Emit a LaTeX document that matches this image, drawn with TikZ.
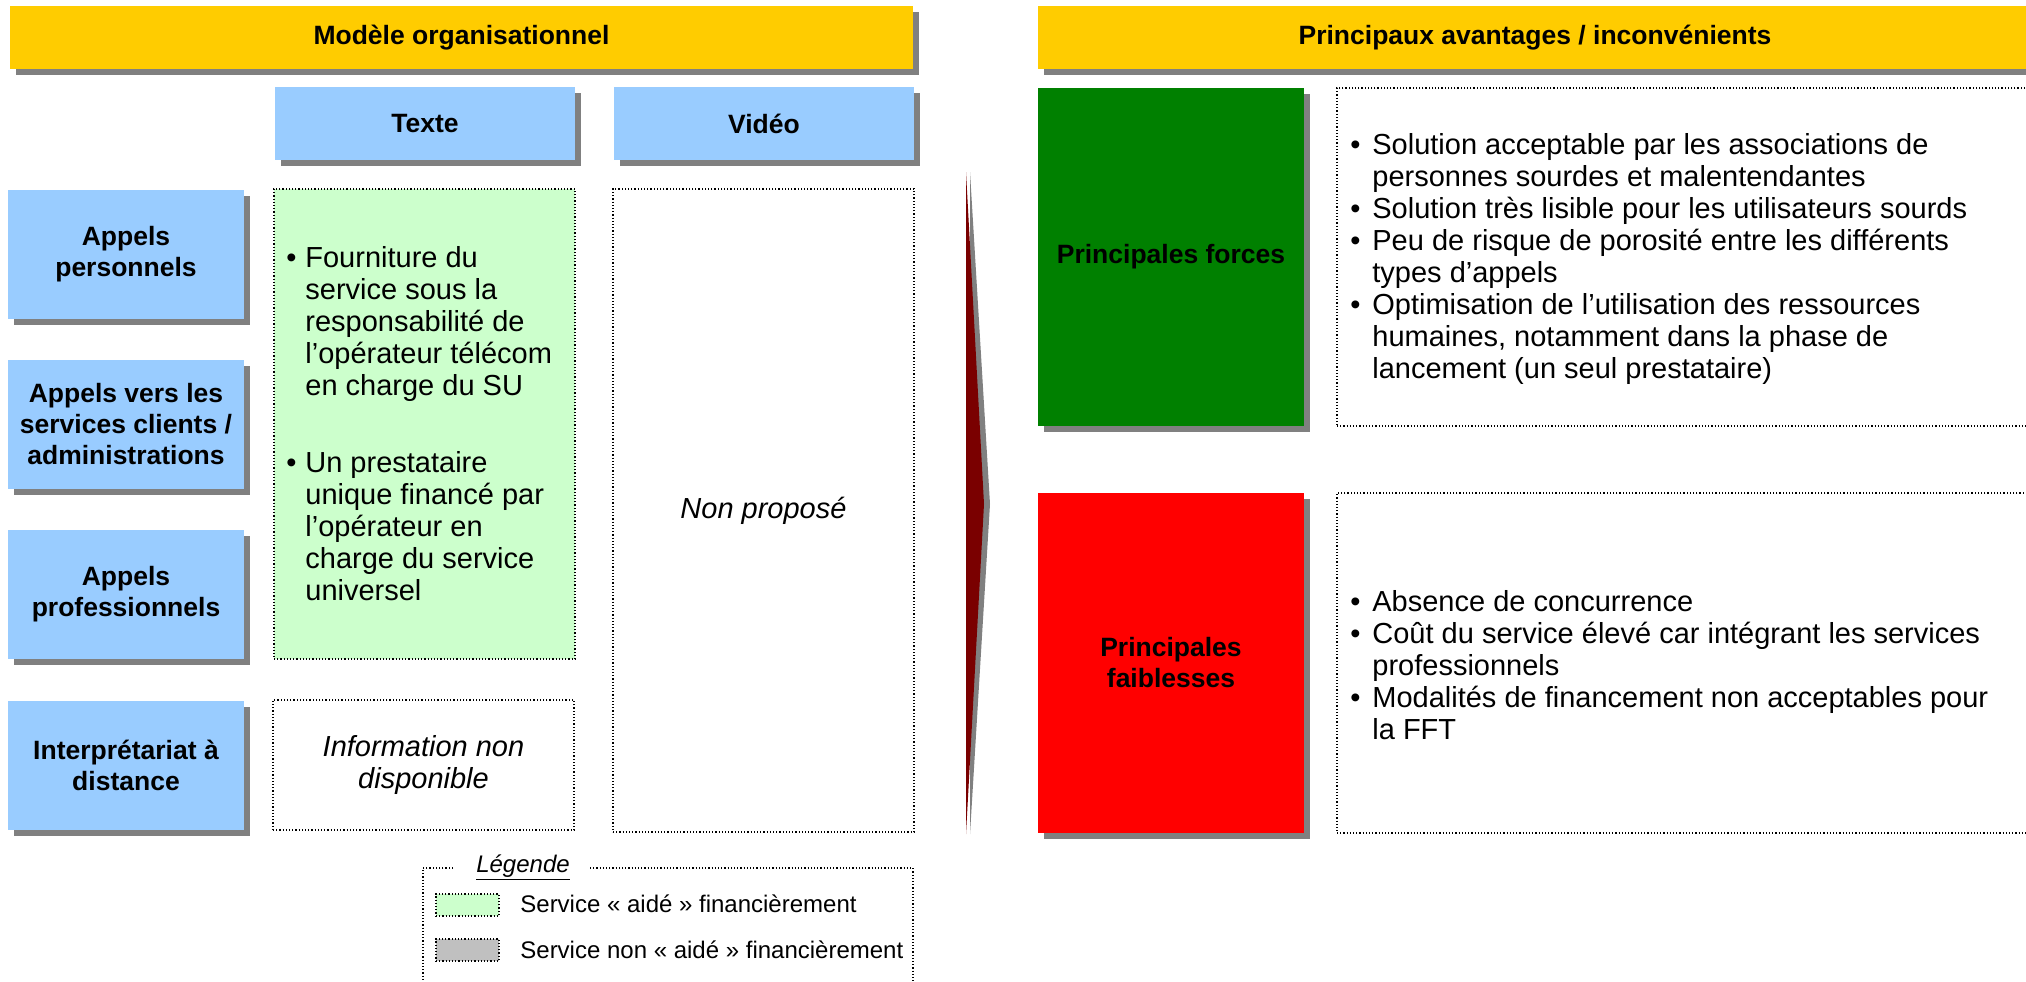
\documentclass[tikz,border=0pt]{standalone}
\usepackage{fontspec}
\setmainfont{Liberation Sans}
\definecolor{hdryellow}{HTML}{FFCC00}
\definecolor{lblue}{HTML}{99CCFF}
\definecolor{lgreen}{HTML}{CCFFCC}
\definecolor{dgreen}{HTML}{008000}
\definecolor{bred}{HTML}{FF0000}
\definecolor{shgray}{HTML}{808080}
\definecolor{lggray}{HTML}{C0C0C0}
\definecolor{arrred}{HTML}{7A0000}
\newcommand{\bul}[1]{\makebox[#1][l]{\textbullet}}
\newcommand{\ind}[1]{\hspace*{#1}}
\tikzset{
  shadowed/.style={preaction={fill=shgray, transform canvas={xshift=3pt,yshift=-3pt}}},
  boldf/.style={font=\bfseries\fontsize{13.25}{15.5}\selectfont},
  hdr/.style={shadowed, fill=hdryellow, boldf, inner sep=0pt, outer sep=0pt, minimum height=31.5pt},
  lbl/.style={shadowed, fill=lblue, boldf, inner sep=0pt, outer sep=0pt, align=center},
  dotbox/.style={draw=black, densely dotted, line width=0.6pt, inner sep=0pt, outer sep=0pt},
  bodyt/.style={font=\fontsize{14.5}{16}\selectfont, align=left, inner sep=0pt},
  itt/.style={font=\itshape\fontsize{14.5}{16}\selectfont, align=center, inner sep=0pt},
  legt/.style={font=\fontsize{12}{14}\selectfont, inner sep=0pt, anchor=west},
}
\begin{document}
\begin{tikzpicture}[x=0.5pt,y=-0.5pt]
\useasboundingbox (0,0) rectangle (2026,981);

% headers
\node[hdr, minimum width=451.5pt] (hdrL) at (461.5,37.5) {Modèle organisationnel};
\node[hdr, minimum width=497pt] (hdrR) at (1535,37.5) {Principaux avantages / inconvénients};

% column headers
\node[lbl, minimum width=150pt, minimum height=36.5pt] (texte) at (425,123.5) {Texte};
\node[lbl, minimum width=150pt, minimum height=36.5pt] (video) at (764,123.5) {Vidéo};

% row labels
\node[lbl, minimum width=118pt, minimum height=64.5pt] (r1) at (126,254.5) {Appels\\personnels};
\node[lbl, minimum width=118pt, minimum height=64.5pt] (r2) at (126,424.5) {Appels vers les\\services clients /\\administrations};
\node[lbl, minimum width=118pt, minimum height=64.5pt] (r3) at (126,594.5) {Appels\\professionnels};
\node[lbl, minimum width=118pt, minimum height=64.5pt] (r4) at (126,765.5) {Interprétariat à\\distance};

% content cells
\node[dotbox, fill=lgreen, minimum width=150.5pt, minimum height=235pt] (green) at (424.5,424) {};
\node[bodyt, anchor=west] (greentxt) at (286,424) {\bul{9.5pt}Fourniture du\\\ind{9.5pt}service sous la\\\ind{9.5pt}responsabilité de\\\ind{9.5pt}l’opérateur télécom\\\ind{9.5pt}en charge du SU\\[22.5pt]\bul{9.5pt}Un prestataire\\\ind{9.5pt}unique financé par\\\ind{9.5pt}l’opérateur en\\\ind{9.5pt}charge du service\\\ind{9.5pt}universel};
\node[dotbox, minimum width=150.5pt, minimum height=65pt, itt] (info) at (423.5,765) {Information non\\disponible};
\node[dotbox, minimum width=150.5pt, minimum height=321.5pt, itt] (nonp) at (763.5,510.5) {Non proposé};

% arrow
\coordinate (atop) at (966,172);
\coordinate (atip) at (984,504);
\coordinate (abot) at (966,834);
\fill[shgray] ([xshift=2pt]atop) -- ([xshift=3pt]atip) -- ([xshift=2pt]abot) -- cycle;
\fill[arrred] (atop) -- (atip) -- (abot) -- cycle;

% forces / faiblesses
\node[shadowed, fill=dgreen, boldf, inner sep=0pt, minimum width=133pt, minimum height=169pt] (forces) at (1171,257) {Principales forces};
\node[shadowed, fill=bred, boldf, inner sep=0pt, minimum width=133pt, minimum height=170pt, align=center] (faib) at (1171,663) {Principales\\faiblesses};
\node[dotbox, minimum width=347.5pt, minimum height=169pt] (fbox) at (1684.5,257) {};
\node[dotbox, minimum width=347.5pt, minimum height=170pt] (wbox) at (1684.5,663) {};
\node[bodyt, anchor=west] (ftxt) at (1350,259) {\bul{11pt}Solution acceptable par les associations de\\\ind{11pt}personnes sourdes et malentendantes\\\bul{11pt}Solution très lisible pour les utilisateurs sourds\\\bul{11pt}Peu de risque de porosité entre les différents\\\ind{11pt}types d’appels\\\bul{11pt}Optimisation de l’utilisation des ressources\\\ind{11pt}humaines, notamment dans la phase de\\\ind{11pt}lancement (un seul prestataire)};
\node[bodyt, anchor=west] (wtxt) at (1350,665) {\bul{11pt}Absence de concurrence\\\bul{11pt}Coût du service élevé car intégrant les services\\\ind{11pt}professionnels\\\bul{11pt}Modalités de financement non acceptables pour\\\ind{11pt}la FFT};

% legend
\node[font=\itshape\fontsize{12}{14}\selectfont, inner sep=0pt, anchor=base] (legt) at (523,872) {\underline{Légende}};
\coordinate (l1) at (453,868);
\coordinate (l2) at (423,868);
\coordinate (l3) at (423,990);
\coordinate (l4) at (590,868);
\coordinate (l5) at (913,868);
\coordinate (l6) at (913,990);
\draw[densely dotted, line width=0.6pt] (l1) -- (l2) -- (l3);
\draw[densely dotted, line width=0.6pt] (l4) -- (l5) -- (l6);
\node[dotbox, fill=lgreen, minimum width=31.5pt, minimum height=11pt] (sw1) at (467.5,905) {};
\node[dotbox, fill=lggray, minimum width=31.5pt, minimum height=11pt] (sw2) at (467.5,950) {};
\node[legt] (lt1) at (520,904) {Service « aidé » financièrement};
\node[legt] (lt2) at (520,950) {Service non « aidé » financièrement};
\end{tikzpicture}
\end{document}
